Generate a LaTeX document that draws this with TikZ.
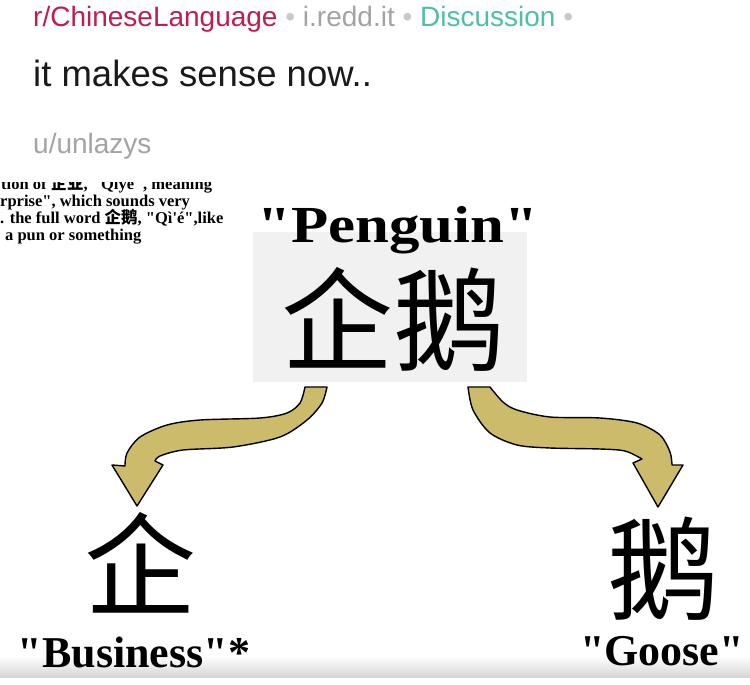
\documentclass[tikz,border=0pt]{standalone}
\usepackage{fontspec}
\setmainfont{Liberation Serif}[Ligatures=TeXOff]
\setsansfont{Liberation Sans}
\newfontfamily\cjk{Noto Sans CJK SC}
\usepackage{graphicx}
\usetikzlibrary{positioning}
\definecolor{subred}{HTML}{BE1E4D}
\definecolor{metagray}{HTML}{A3A3A3}
\definecolor{dotgray}{HTML}{C9C9C9}
\definecolor{flairteal}{HTML}{4FBFA6}
\definecolor{titleblack}{HTML}{1A1A1B}
\definecolor{arrowgold}{HTML}{CDBB6C}
\definecolor{panelgray}{HTML}{F1F1F1}

\begin{document}
\begin{tikzpicture}[x=1pt, y=-1pt,
  meta/.style={inner sep=0, anchor=base west, font=\sffamily\fontsize{28}{32}\selectfont},
  note/.style={inner sep=0, anchor=base west, font=\bfseries\fontsize{16.5}{17}\selectfont},
  hanzi/.style={inner sep=0, anchor=base, font=\cjk\fontsize{112}{120}\selectfont},
  gloss/.style={inner sep=0, anchor=base, font=\bfseries\fontsize{44}{48}\selectfont},
  fatarrow/.style={draw=black, line width=1.4pt, line join=round, fill=arrowgold}]
  \fill[white] (0,0) rectangle (750,685);
  \useasboundingbox (0,0) rectangle (750,685);

  \node[meta] (sub) at (33,27) {{\color{subred}r/ChineseLanguage} {\color{dotgray}•}
    {\color{metagray}i.redd.it} {\color{dotgray}•} {\color{flairteal}Discussion} {\color{dotgray}•}};
  \node[meta, font=\sffamily\fontsize{36.5}{40}\selectfont, text=titleblack] (title) at (33,86) {it makes sense now..};
  \node[meta, text=metagray] (user) at (33,153) {u/unlazys};

  \begin{scope}
    \clip (0,182) rectangle (250,250);
    \node[note] (note1) at (1,189) {tion of {\cjk 企业}, "Qiye", meaning};
    \node[note] (note2) at (0,206) {rprise", which sounds very};
    \node[note] (note3) at (0,223) {. the full word {\cjk 企鹅}, "Qì'é",like};
    \node[note] (note4) at (5,240) {a pun or something};
  \end{scope}

  \fill[panelgray] (253,232) rectangle (527,382);
  \node[gloss, font=\bfseries\fontsize{52}{56}\selectfont] (penguin) at (398,242)
    {\scalebox{1.17}[1]{"Penguin"}};
  \node[hanzi] (pair) at (393,362) {企鹅};

  \node[hanzi] (biz) at (140,607) {企};
  \node[hanzi] (goose) at (663,611) {鹅};
  \shade[top color=white, bottom color=black!16] (0,656) rectangle (750,677);
  \node[gloss] (bizlabel) at (134,667) {"Business"*};
  \node[gloss] (gooselabel) at (662,665) {"Goose"};

  \draw[fatarrow] (305,387) -- plot[smooth] coordinates {(305,387) (300,403) (287,413)
      (260,418) (200,420) (167,425) (140,437) (127,453) (125,466)}
    -- (112,465) -- (137,506) -- (163,465) -- (155,461)
    -- plot[smooth] coordinates {(155,461) (160,456) (183,450) (233,447) (280,437)
      (307,420) (322,403) (327,387)} -- cycle;
  \draw[fatarrow] (468,387) -- (490,387) -- plot[smooth] coordinates {(490,387) (503,402)
      (517,410) (550,417) (600,418) (637,423) (660,435) (670,452) (672,465)}
    -- (683,465) -- (658,507) -- (633,463) -- (642,459)
    -- plot[smooth] coordinates {(642,459) (625,451) (600,449) (550,448) (517,445)
      (490,433) (473,410) (468,387)} -- cycle;
\end{tikzpicture}
\end{document}
